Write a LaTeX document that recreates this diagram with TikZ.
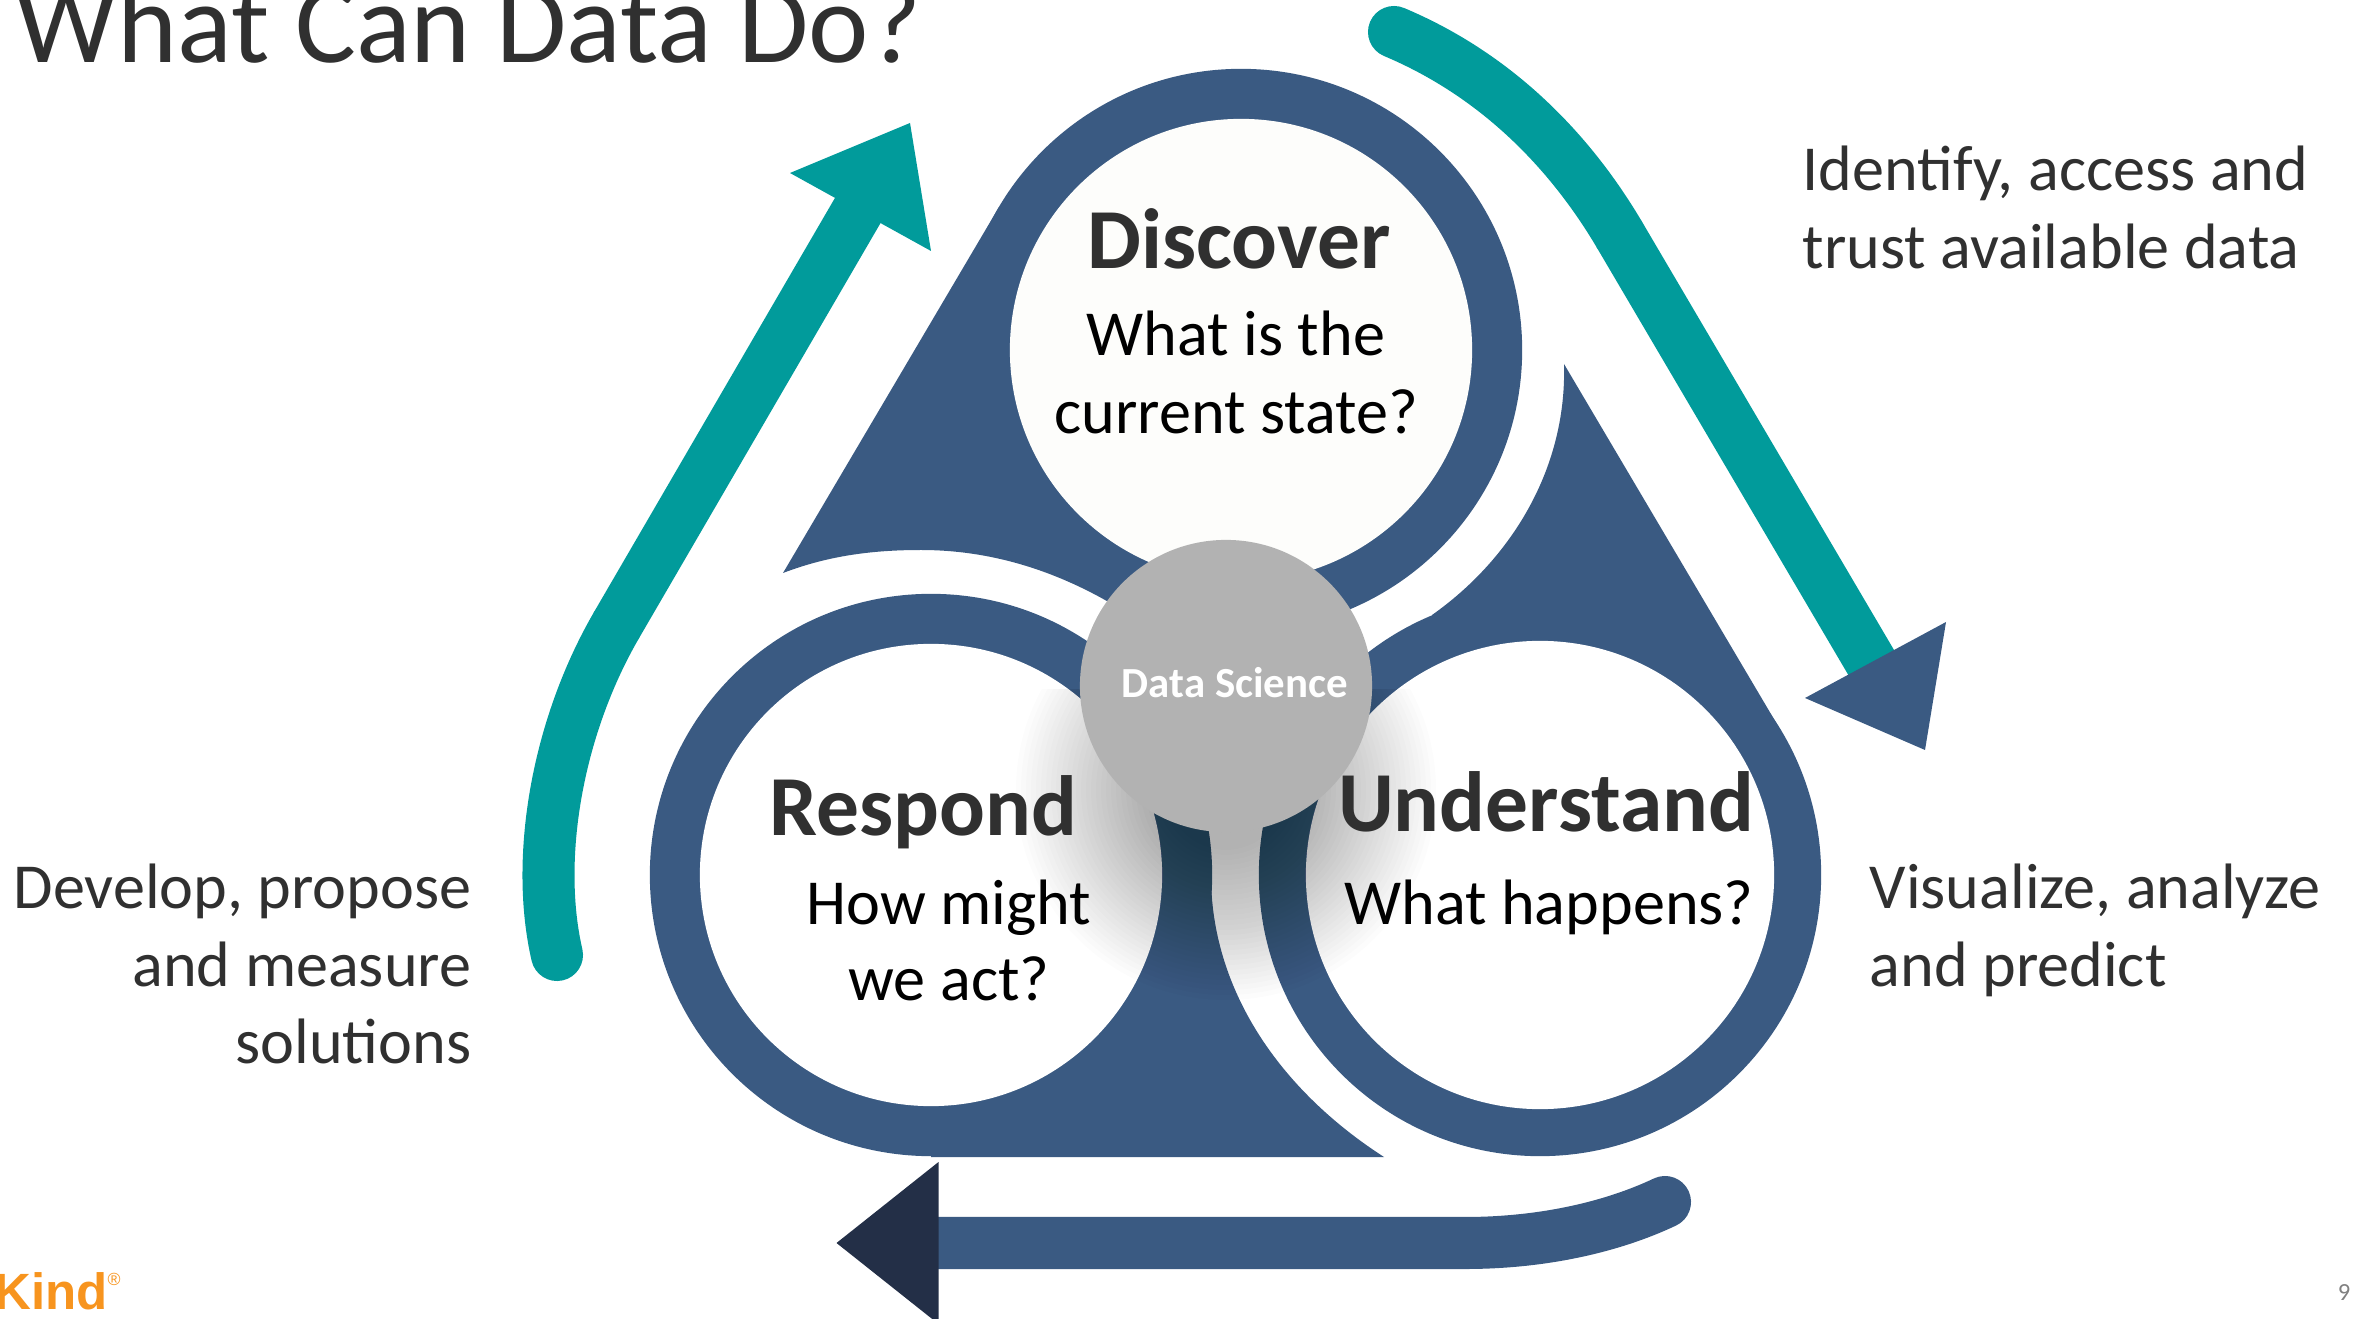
\documentclass[tikz,border=0pt]{standalone}
\usepackage{fontspec}
\setmainfont{Carlito}
\definecolor{ringblue}{HTML}{3A5A82}
\definecolor{tealc}{HTML}{019B9B}
\definecolor{navyc}{HTML}{232F47}
\definecolor{txt}{HTML}{303030}
\definecolor{orangec}{HTML}{F7941E}
\definecolor{diskc}{HTML}{B2B2B2}
\definecolor{offwhite}{HTML}{FDFDFB}
\tikzset{
  ringfill/.style={fill=ringblue,draw=none},
  headtip/.style={draw=none},
  band/.style={draw=#1,line width=0.52cm,line cap=round},
  heading/.style={font=\fontsize{24.3}{30}\selectfont\bfseries,text=txt,inner sep=0pt,anchor=base},
  question/.style={font=\fontsize{18.25}{22}\selectfont,text=black,inner sep=0pt,anchor=base},
  side/.style={font=\fontsize{18.25}{22}\selectfont,text=txt,inner sep=0pt,anchor=base},
}
\begin{document}
\begin{tikzpicture}[x=0.01cm,y=-0.01cm]
\useasboundingbox (0,0) rectangle (2354,1319);
\begin{scope}
\clip (0,0) rectangle (2354,1319);
% title
\node[font=\fontsize{32.5}{38}\selectfont,text=txt,inner sep=0pt,anchor=base west] (title) at (15,63) {What Can Data Do?};
% rings with tails
\coordinate (cd) at (1241,350);
\coordinate (cr) at (931,875);
\coordinate (cu) at (1540,875);
\fill[ringfill] (999,207) -- (783,573) .. controls (830,555) and (875,550) .. (921,550) .. controls (990,550) and (1060,570) .. (1130,615) -- (cd) -- cycle;
\fill[ringfill] (1564,364) .. controls (1567,470) and (1510,560) .. (1432,615) -- (cu) -- (1781,731) -- cycle;
\fill[ringfill] (931,1157) -- (1384,1157) .. controls (1280,1090) and (1211,990) .. (1211,875) -- (cr) -- cycle;
\fill[ringfill] (cd) circle[radius=2.81cm];
\fill[ringfill] (cr) circle[radius=2.81cm];
\fill[ringfill] (cu) circle[radius=2.81cm];
\fill[offwhite] (cd) circle[radius=2.31cm];
\fill[white] (cr) circle[radius=2.31cm];
\fill[white] (cu) circle[radius=2.34cm];
% shadow
\begin{scope}
\clip (900,690) rectangle (1550,1010);
\foreach \r in {60,65,...,210}{
  \fill[black,opacity=0.0115] (1226,790) circle[radius=\r*0.01cm];
}
\end{scope}
% central disk
\node[circle,fill=diskc,minimum size=2.92cm,inner sep=0pt] (disk) at (1226,686) {};
\node[font=\fontsize{12.2}{14}\selectfont\bfseries,text=white,inner sep=0pt] (dstext) at (1235,683) {Data Science};
% teal arrow right
\coordinate (a1) at (1394,32);
\coordinate (a2) at (1619,234);
\coordinate (a3) at (1885,686);
\draw[band=tealc,line cap=butt] (a2) -- (a3);
\draw[band=tealc] (a1) .. controls (1494,74) and (1568,148) .. (a2);
\fill[ringblue,headtip] (1946,622) -- (1805,698) -- (1925,750) -- cycle;
% teal arrow left
\coordinate (b1) at (557,955);
\coordinate (b2) at (616,626);
\coordinate (b3) at (872,186);
\draw[band=tealc,line cap=butt] (b2) -- (b3);
\draw[band=tealc] (b1) .. controls (535,860) and (556,730) .. (b2);
\fill[tealc,headtip] (910,123) -- (790,173) -- (931,251) -- cycle;
% bottom arrow
\coordinate (c1) at (1665,1202);
\coordinate (c2) at (1465,1243);
\coordinate (c3) at (938,1243);
\draw[band=ringblue] (c1) .. controls (1610,1228) and (1540,1243) .. (c2) -- (c3);
\fill[navyc,headtip] (938.5,1162) -- (836.5,1243) -- (938.5,1324) -- cycle;
% headings and questions
\node[heading] (h1) at (1239,269) {Discover};
\node[question] (q1a) at (1236,356) {What is the};
\node[question] (q1b) at (1236,434) {current state?};
\node[heading] (h2) at (923,836) {Respond};
\node[question] (q2a) at (949,924) {How might};
\node[question] (q2b) at (949,1000) {we act?};
\node[heading] (h3) at (1546,831) {Understand};
\node[question] (q3a) at (1549,924) {What happens?};
% side texts
\node[side,anchor=base west] (s1a) at (1802,191) {Identify, access and};
\node[side,anchor=base west] (s1b) at (1802,269) {trust available data};
\node[side,anchor=base west] (s2a) at (1869,909) {Visualize, analyze};
\node[side,anchor=base west] (s2b) at (1869,986) {and predict};
\node[side,anchor=base east] (s3a) at (472,909) {Develop, propose};
\node[side,anchor=base east] (s3b) at (472,986) {and measure};
\node[side,anchor=base east] (s3c) at (472,1063) {solutions};
% footer
\node[font=\fontsize{14.5}{16}\fontspec{Liberation Sans}\bfseries,text=orangec,inner sep=0pt,anchor=base west] (logo) at (-6,1309) {Kind};
\node[font=\fontsize{5}{6}\fontspec{Liberation Sans},text=orangec,inner sep=0pt] (reg) at (114,1279) {®};
\node[font=\fontsize{7}{8}\selectfont,text=black!50,inner sep=0pt,anchor=base] (page) at (2344,1300) {9};
\end{scope}
\end{tikzpicture}
\end{document}
